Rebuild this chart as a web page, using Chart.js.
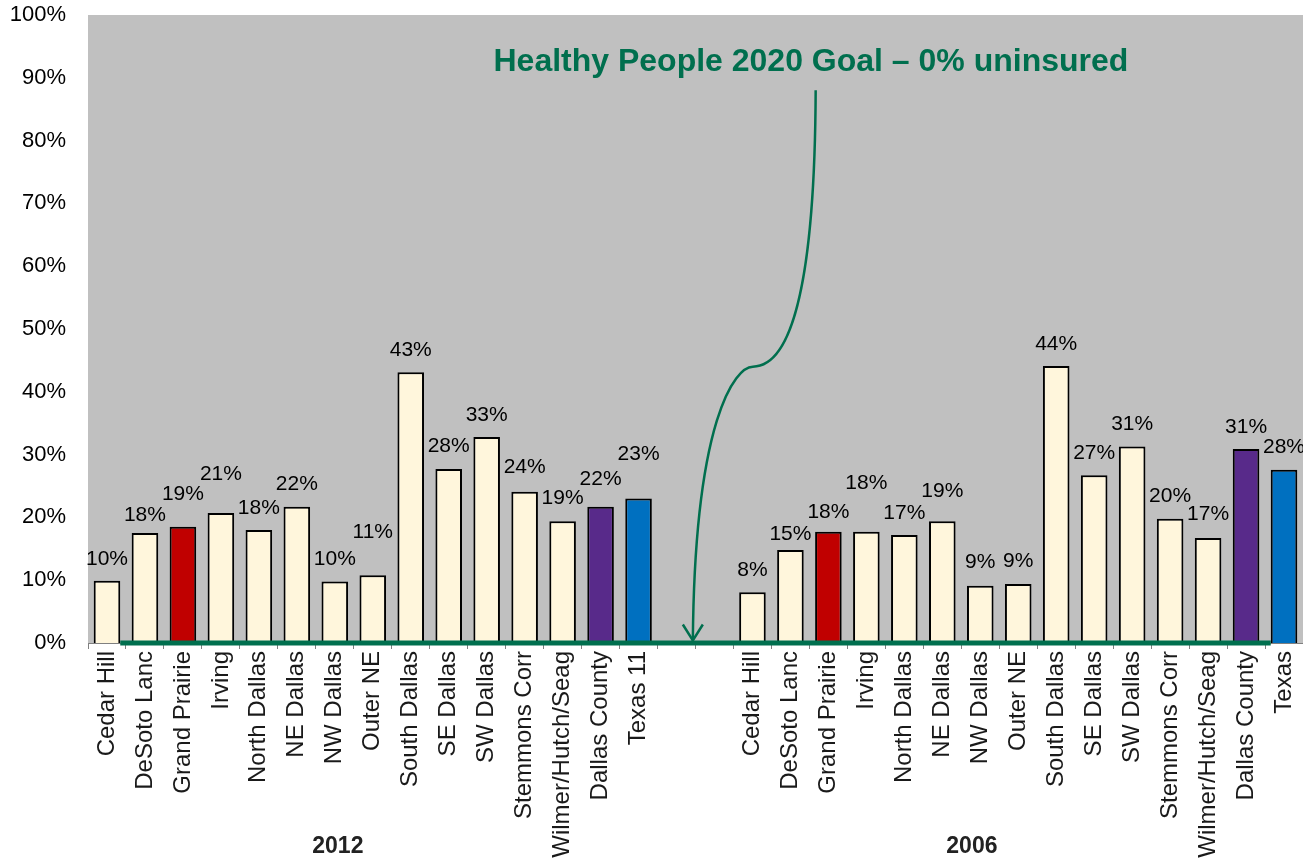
<!DOCTYPE html>
<html>
<head>
<meta charset="utf-8">
<title>Uninsured by area, 2012 vs 2006</title>
<script src="https://cdn.jsdelivr.net/npm/chart.js@4.4.1/dist/chart.umd.min.js"></script>
<style>
  html, body { margin: 0; padding: 0; background: #fff; }
  #wrap { width: 1303px; height: 865px; }
</style>
</head>
<body>
<div id="wrap"><canvas id="chart"></canvas></div>
<script>
// Data (percent uninsured)
const areas2012 = ['Cedar Hill', 'DeSoto Lanc', 'Grand Prairie', 'Irving', 'North Dallas', 'NE Dallas',
    'NW Dallas', 'Outer NE', 'South Dallas', 'SE Dallas', 'SW Dallas', 'Stemmons Corr',
    'Wilmer/Hutch/Seag', 'Dallas County', 'Texas 11'];
const areas2006 = ['Cedar Hill', 'DeSoto Lanc', 'Grand Prairie', 'Irving', 'North Dallas', 'NE Dallas',
    'NW Dallas', 'Outer NE', 'South Dallas', 'SE Dallas', 'SW Dallas', 'Stemmons Corr',
    'Wilmer/Hutch/Seag', 'Dallas County', 'Texas'];
const uninsured2012 = [9.9, 17.5, 18.5, 20.7, 18.0, 21.7, 9.8, 10.8, 43.1, 27.7, 32.8, 24.1, 19.4, 21.7, 23.0];
const uninsured2006 = [8.1, 14.8, 17.7, 17.7, 17.2, 19.4, 9.1, 9.4, 44.1, 26.7, 31.3, 19.8, 16.7, 30.9, 27.6];
const yearLabels = ['2012', '2006'];
const yTicks = [0, 10, 20, 30, 40, 50, 60, 70, 80, 90, 100];
const goalText = 'Healthy People 2020 Goal \u2013 0% uninsured';

// two empty slots between the groups
const labels = [...areas2012, '', '', ...areas2006];
const values = [...uninsured2012, null, null, ...uninsured2006];

// extra lift (px) of some value labels, as placed in the original
const labelLift = [0, -4, 11, 17, 0, 1, 0, 21, 0, 1, 0, 2, 1, 6, 22, 0, 0,
    0, -6, -2, 27, 0, 8, 2, 1, 0, 0, 0, 0, 2, 0, 0];

const GREEN = '#006F4E';
const FONT = '"Liberation Sans", Arial, sans-serif';

function barColor(name) {
    if (name === 'Grand Prairie') return '#C00000';
    if (name === 'Dallas County') return '#582A8A';
    if (name.startsWith('Texas')) return '#0070C0';
    return '#FFF6DC';
}

const plotBackground = {
    id: 'plotBackground',
    beforeDraw(chart) {
        const { ctx, chartArea: a } = chart;
        ctx.save();
        ctx.fillStyle = '#C0C0C0';
        ctx.fillRect(a.left, a.top, a.right - a.left, a.bottom - a.top);
        ctx.restore();
    }
};

const overlay = {
    id: 'overlay',
    afterDatasetsDraw(chart) {
        const { ctx } = chart;
        const xs = chart.scales.x;
        const ys = chart.scales.y;
        const bars = chart.getDatasetMeta(0).data;
        const zeroY = ys.getPixelForValue(0);

        // goal line at 0%
        const first = bars[0];
        const last = bars[bars.length - 1];
        ctx.save();
        ctx.strokeStyle = GREEN;
        ctx.lineWidth = 5;
        ctx.beginPath();
        ctx.moveTo(first.x + first.width / 2, zeroY);
        ctx.lineTo(last.x - last.width / 2, zeroY);
        ctx.stroke();

        // value labels
        ctx.fillStyle = '#000';
        ctx.font = '21px ' + FONT;
        ctx.textAlign = 'center';
        ctx.textBaseline = 'middle';
        bars.forEach((bar, i) => {
            if (values[i] == null) return;
            ctx.fillText(Math.round(values[i]) + '%', bar.x, bar.y - 22 - labelLift[i]);
        });

        // annotation text
        ctx.fillStyle = GREEN;
        ctx.font = 'bold 32px ' + FONT;
        ctx.fillText(goalText, xs.getPixelForValue(18.54), ys.getPixelForValue(92.5));

        // curved arrow
        const P = (i, v) => [xs.getPixelForValue(i), ys.getPixelForValue(v)];
        const p0 = P(18.665, 88), c1 = P(18.645, 56.3), c2 = P(17.99, 44), k = P(17.01, 44);
        const c3 = P(16.54, 44), c4 = P(15.48, 35.6), tip = P(15.43, 0.4);
        ctx.strokeStyle = GREEN;
        ctx.lineWidth = 2.5;
        ctx.beginPath();
        ctx.moveTo(p0[0], p0[1]);
        ctx.bezierCurveTo(c1[0], c1[1], c2[0], c2[1], k[0], k[1]);
        ctx.bezierCurveTo(c3[0], c3[1], c4[0], c4[1], tip[0], tip[1]);
        ctx.stroke();
        ctx.beginPath();
        ctx.moveTo(tip[0] - 10, tip[1] - 16);
        ctx.lineTo(tip[0], tip[1]);
        ctx.lineTo(tip[0] + 10, tip[1] - 16);
        ctx.stroke();
        ctx.restore();
    },
    afterDraw(chart) {
        const { ctx } = chart;
        const xs = chart.scales.x;
        ctx.save();
        ctx.fillStyle = '#222';
        ctx.font = 'bold 23px ' + FONT;
        ctx.textAlign = 'center';
        ctx.textBaseline = 'middle';
        ctx.fillText(yearLabels[0], xs.getPixelForValue(6.08), 847);
        ctx.fillText(yearLabels[1], xs.getPixelForValue(22.78), 847);
        ctx.restore();
    }
};

new Chart(document.getElementById('chart'), {
    type: 'bar',
    data: {
        labels: labels,
        datasets: [{
            data: values,
            backgroundColor: labels.map(barColor),
            borderColor: '#000',
            borderWidth: 2,
            categoryPercentage: 1,
            barPercentage: 0.7
        }]
    },
    options: {
        responsive: true,
        maintainAspectRatio: false,
        animation: false,
        layout: { padding: { top: 15, right: 0, left: 0, bottom: 0 } },
        plugins: {
            legend: { display: false },
            tooltip: { enabled: false }
        },
        scales: {
            x: {
                afterFit: (scale) => {
                    scale.height = 222;
                    scale.paddingLeft = 0;
                    scale.paddingRight = 0;
                },
                grid: {
                    offset: true,
                    drawOnChartArea: false,
                    color: '#808080',
                    tickLength: 6
                },
                border: { color: '#808080', width: 1 },
                ticks: {
                    autoSkip: false,
                    minRotation: 90,
                    maxRotation: 90,
                    padding: 2,
                    color: '#1a1a1a',
                    font: { family: FONT, size: 24 }
                }
            },
            y: {
                min: 0,
                max: 100,
                afterFit: (scale) => {
                    scale.width = 88;
                    scale.paddingTop = 0;
                    scale.paddingBottom = 0;
                },
                afterBuildTicks: (scale) => { scale.ticks = yTicks.map(v => ({ value: v })); },
                grid: { display: false, drawTicks: false },
                border: { display: false },
                ticks: {
                    padding: 22,
                    color: '#000',
                    font: { family: FONT, size: 22 },
                    callback: (v) => v + '%'
                }
            }
        }
    },
    plugins: [plotBackground, overlay]
});
</script>
</body>
</html>
